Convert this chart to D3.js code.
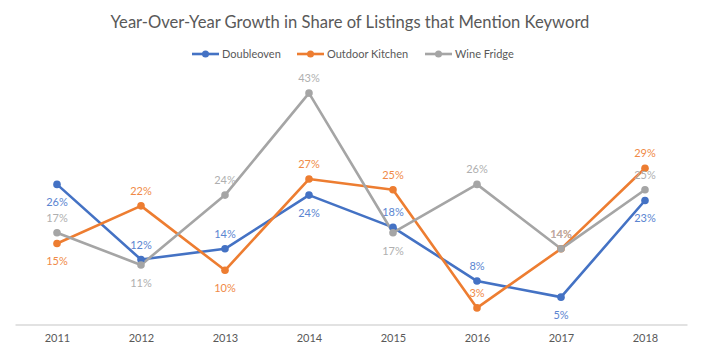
<!DOCTYPE html>
<html><head><meta charset="utf-8">
<script src="https://cdn.jsdelivr.net/npm/d3@7"></script>
<style>body{margin:0;background:#fff}svg{display:block}</style>
</head><body><svg id="c" width="702" height="355"></svg>
<script>
const years = ["2011","2012","2013","2014","2015","2016","2017","2018"];
const doubleoven = [26,12,14,24,18,8,5,23];
const outdoorKitchen = [15,22,10,27,25,3,14,29];
const wineFridge = [17,11,24,43,17,26,14,25];
// label placement: 1 = above, -1 = below
const doubleovenPos = [-1,1,1,-1,1,1,-1,-1];
const outdoorPos = [-1,1,-1,1,1,1,1,1];
const winePos = [1,-1,1,1,-1,1,1,1];
const seriesNames = ["Doubleoven","Outdoor Kitchen","Wine Fridge"];
const colors = ["#4472C4","#ED7D31","#A5A5A5"];
const labelColors = ["#5B85D1","#F08A47","#AFAFAF"];

const series = [
  {name: seriesNames[0], values: doubleoven, pos: doubleovenPos, color: colors[0], lc: labelColors[0]},
  {name: seriesNames[1], values: outdoorKitchen, pos: outdoorPos, color: colors[1], lc: labelColors[1]},
  {name: seriesNames[2], values: wineFridge, pos: winePos, color: colors[2], lc: labelColors[2]}
];

const svg = d3.select("#c");
const font = "Lato, 'Open Sans', sans-serif";
const x = d3.scalePoint().domain(years).range([15,687]).padding(0.5);
const y = d3.scaleLinear().domain([0,50]).range([324,55.5]);

svg.append("text").attr("x",350).attr("y",28).attr("text-anchor","middle")
  .attr("font-family",font).attr("font-size",16.6).attr("fill","#595959")
  .text("Year-Over-Year Growth in Share of Listings that Mention Keyword");

// axis
const ax = svg.append("g").attr("transform","translate(0,324.5)")
  .call(d3.axisBottom(x).tickSize(0).tickPadding(10));
ax.select(".domain").attr("stroke","#D9D9D9").attr("stroke-width",1.6);
ax.selectAll("text").attr("font-family",font).attr("font-size",11).attr("fill","#595959");

const line = d3.line().x((d,i)=>x(years[i])).y(d=>y(d));
series.forEach(s=>{
  svg.append("path").datum(s.values).attr("d",line).attr("fill","none")
    .attr("stroke",s.color).attr("stroke-width",2.6).attr("stroke-linejoin","round");
});
series.forEach(s=>{
  svg.selectAll(null).data(s.values).enter().append("circle")
    .attr("cx",(d,i)=>x(years[i])).attr("cy",d=>y(d)).attr("r",3.8).attr("fill",s.color);
});
series.forEach(s=>{
  svg.selectAll(null).data(s.values).enter().append("text")
    .attr("x",(d,i)=>x(years[i])).attr("y",(d,i)=>y(d) + (s.pos[i]>0 ? -11 : 22))
    .attr("text-anchor","middle").attr("font-family",font).attr("font-size",11)
    .attr("fill",s.lc).text(d=>d+"%");
});

// legend
const legX = [192,297,425];
series.forEach((s,i)=>{
  const g = svg.append("g").attr("transform",`translate(${legX[i]},54)`);
  g.append("line").attr("x1",0).attr("x2",27).attr("stroke",s.color).attr("stroke-width",2.6);
  g.append("circle").attr("cx",13.5).attr("r",3.5).attr("fill",s.color);
  g.append("text").attr("x",30).attr("y",4).attr("font-family",font).attr("font-size",11)
    .attr("fill","#595959").text(s.name);
});
</script></body></html>
